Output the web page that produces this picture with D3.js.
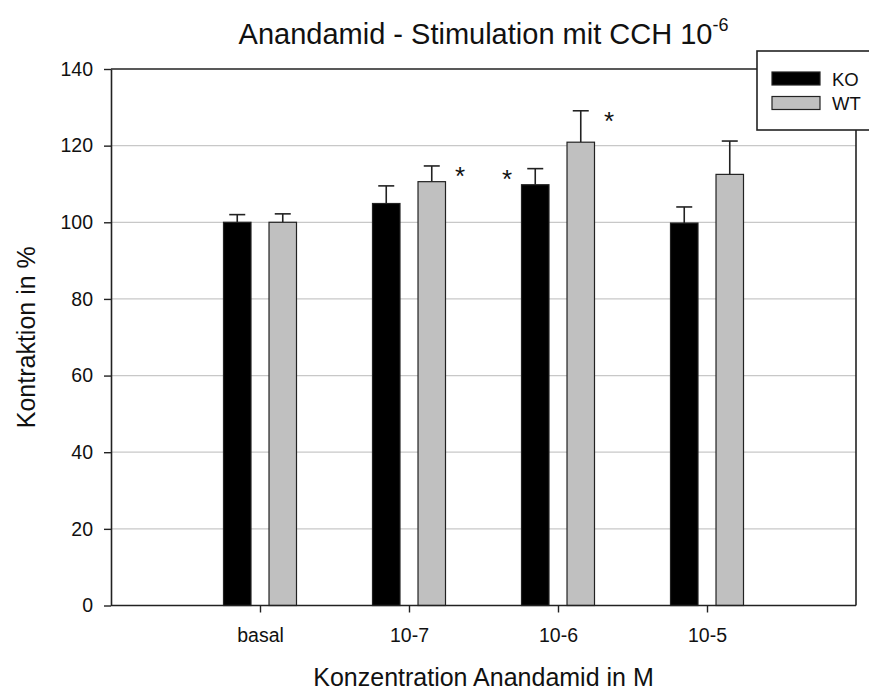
<!DOCTYPE html>
<html>
<head>
<meta charset="utf-8">
<script src="https://cdn.jsdelivr.net/npm/d3@7"></script>
<style>
  html, body { margin: 0; padding: 0; background: #fff; }
  svg { display: block; font-family: "Liberation Sans", Arial, sans-serif; }
</style>
</head>
<body>
<svg id="chart" width="869" height="691"></svg>
<script>
// Contraction (% of basal) after carbachol 10^-6 M stimulation, by anandamide concentration
const categories = ["basal", "10-7", "10-6", "10-5"];
const seriesNames = ["KO", "WT"];
const koMean = [100, 104.9, 109.8, 99.8];
const koErr  = [2.0, 4.6, 4.2, 4.2];
const wtMean = [100, 110.6, 120.9, 112.5];
const wtErr  = [2.2, 4.1, 8.2, 8.7];
const yTicks = [0, 20, 40, 60, 80, 100, 120, 140];
// significance marks: [category, series, side]
const stars = [["10-7", "WT", 1], ["10-6", "KO", -1], ["10-6", "WT", 1]];
const colors = { KO: "#000000", WT: "#c0c0c0" };

const svg = d3.select("#chart");
const m = { left: 111, right: 856, top: 69, bottom: 605.5 };

const x = d3.scalePoint().domain(categories).range([m.left, m.right]).padding(1);
const xs = d3.scaleBand().domain(seriesNames).range([-36.5, 36.5]).paddingInner(0.396);
const y = d3.scaleLinear().domain([0, 140]).range([m.bottom, m.top]);

const rows = categories.map((c, i) => ({
  cat: c,
  KO: { mean: koMean[i], err: koErr[i] },
  WT: { mean: wtMean[i], err: wtErr[i] }
}));

// gridlines
svg.append("g").selectAll("line")
  .data(yTicks.filter(t => t > 0 && t < 140))
  .join("line")
  .attr("x1", m.left).attr("x2", m.right)
  .attr("y1", d => y(d)).attr("y2", d => y(d))
  .attr("stroke", "#c8c8c8").attr("stroke-width", 1.3);

// bars and error bars
const groups = svg.append("g").selectAll("g")
  .data(rows).join("g")
  .attr("transform", d => `translate(${x(d.cat)},0)`);

seriesNames.forEach(s => {
  groups.append("line")
    .attr("x1", xs(s) + xs.bandwidth() / 2).attr("x2", xs(s) + xs.bandwidth() / 2)
    .attr("y1", d => y(d[s].mean)).attr("y2", d => y(d[s].mean + d[s].err))
    .attr("stroke", "#222").attr("stroke-width", 1.6);
  groups.append("line")
    .attr("x1", xs(s) + xs.bandwidth() / 2 - 8).attr("x2", xs(s) + xs.bandwidth() / 2 + 8)
    .attr("y1", d => y(d[s].mean + d[s].err)).attr("y2", d => y(d[s].mean + d[s].err))
    .attr("stroke", "#222").attr("stroke-width", 1.6);
  groups.append("rect")
    .attr("x", xs(s)).attr("width", xs.bandwidth())
    .attr("y", d => y(d[s].mean)).attr("height", d => y(0) - y(d[s].mean))
    .attr("fill", colors[s]).attr("stroke", "#222").attr("stroke-width", 1.2);
});

// significance asterisks
svg.append("g").selectAll("text")
  .data(stars).join("text")
  .attr("x", d => x(d[0]) + d[2] * 51)
  .attr("y", d => {
    const r = rows.find(r => r.cat === d[0])[d[1]];
    return y(r.mean + r.err) + 19;
  })
  .attr("text-anchor", "middle")
  .attr("font-size", 26).attr("fill", "#111")
  .text("*");

// frame
const frame = svg.append("g").attr("stroke", "#222").attr("stroke-width", 1.6).attr("fill", "none");
frame.append("line").attr("x1", m.left).attr("x2", m.right).attr("y1", m.top).attr("y2", m.top);
frame.append("line").attr("x1", m.right).attr("x2", m.right).attr("y1", m.top).attr("y2", m.bottom);

// y axis
const yAxis = svg.append("g").attr("transform", `translate(${m.left},0)`)
  .call(d3.axisLeft(y).tickValues(yTicks).tickSize(7).tickPadding(11).tickSizeOuter(0));
yAxis.select(".domain").attr("stroke", "#222").attr("stroke-width", 1.6);
yAxis.selectAll(".tick line").attr("stroke", "#222").attr("stroke-width", 1.4);
yAxis.selectAll(".tick text").attr("font-size", 19.5).attr("fill", "#111")
  .attr("font-family", "Liberation Sans, Arial, sans-serif");

// x axis
const xAxis = svg.append("g").attr("transform", `translate(0,${m.bottom})`)
  .call(d3.axisBottom(x).tickSize(7).tickPadding(16).tickSizeOuter(0));
xAxis.select(".domain").attr("stroke", "#222").attr("stroke-width", 1.6)
  .attr("d", `M${m.left},0H${m.right}`);
xAxis.selectAll(".tick line").attr("stroke", "#222").attr("stroke-width", 1.4);
xAxis.selectAll(".tick text").attr("font-size", 19.5).attr("fill", "#111")
  .attr("font-family", "Liberation Sans, Arial, sans-serif");

// titles
const title = svg.append("text")
  .attr("x", (m.left + m.right) / 2).attr("y", 44)
  .attr("text-anchor", "middle").attr("font-size", 29).attr("fill", "#111");
title.append("tspan").text("Anandamid - Stimulation mit CCH 10");
title.append("tspan").attr("font-size", 18).attr("dy", -13).text("-6");

svg.append("text")
  .attr("x", (m.left + m.right) / 2).attr("y", 686)
  .attr("text-anchor", "middle").attr("font-size", 25).attr("fill", "#111")
  .text("Konzentration Anandamid in M");

svg.append("text")
  .attr("transform", `translate(35,${(m.top + m.bottom) / 2}) rotate(-90)`)
  .attr("text-anchor", "middle").attr("font-size", 25).attr("fill", "#111")
  .text("Kontraktion in %");

// legend
const lg = svg.append("g");
lg.append("rect").attr("x", 757).attr("y", 51).attr("width", 130).attr("height", 79)
  .attr("fill", "#fff").attr("stroke", "#222").attr("stroke-width", 1.6);
seriesNames.forEach((s, i) => {
  lg.append("rect").attr("x", 772).attr("y", 72 + i * 24.5).attr("width", 48).attr("height", 13)
    .attr("fill", colors[s]).attr("stroke", "#222").attr("stroke-width", 1.2);
  lg.append("text").attr("x", 832).attr("y", 85.5 + i * 24.5)
    .attr("font-size", 18.5).attr("fill", "#111").text(s);
});
</script>
</body>
</html>
